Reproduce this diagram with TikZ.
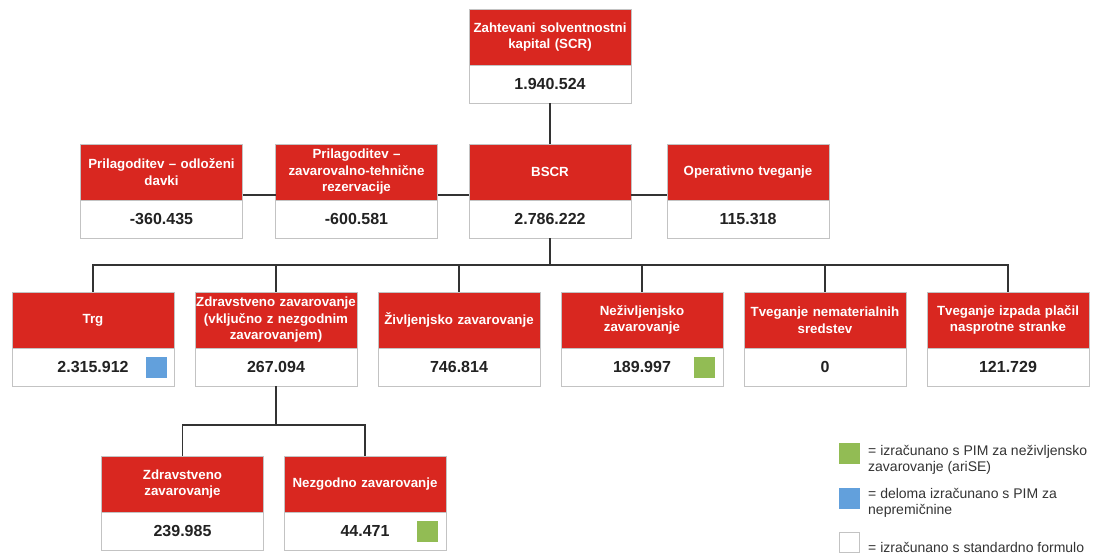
\documentclass[tikz,border=0pt]{standalone}
\usepackage{fontspec}
\setmainfont{Liberation Sans}
\usetikzlibrary{positioning}

\definecolor{riskred}{RGB}{217,39,32}
\definecolor{pimgreen}{RGB}{146,188,84}
\definecolor{pimblue}{RGB}{98,160,220}
\definecolor{boxgray}{RGB}{195,195,195}
\definecolor{linkgray}{RGB}{51,51,51}
\definecolor{numgray}{RGB}{34,34,34}

\begin{document}
\begin{tikzpicture}[
            x = 1pt, y = -1pt, % pixel grid of the reference
            riskhead/.style = {draw=boxgray, fill=riskred, text=white,
                text width=160pt, inner xsep=1pt, minimum height=56pt,
                align=center, anchor=north, outer sep=0pt,
                font=\bfseries\fontsize{13.3}{16.5}\selectfont},
            riskval/.style = {draw=boxgray, fill=white, text=numgray,
                text width=160pt, inner xsep=1pt, minimum height=38pt,
                align=center, outer sep=0pt, below=0pt of #1,
                font=\bfseries\fontsize{16}{18}\selectfont},
            link/.style = {draw=linkgray, line width=1.6pt},
            pimsquare/.style = {fill=#1, draw=#1, minimum size=20pt,
                inner sep=0pt, outer sep=0pt},
            legtext/.style = {text=linkgray, anchor=west, align=left,
                inner sep=0pt, font=\fontsize{14}{16.5}\selectfont}
        ]
        \useasboundingbox (0,0) rectangle (1093,554);

        % top
        \node[riskhead] (scr) at (550,9) {Zahtevani solventnostni\\kapital (SCR)};
        \node[riskval=scr] (scrv) {1.940.524};

        % second row
        \node[riskhead] (pod) at (161.5,144) {Prilagoditev – odloženi\\davki};
        \node[riskval=pod] (podv) {-360.435};
        \node[riskhead] (pzt) at (356.5,144) {Prilagoditev –\\zavarovalno-tehnične\\rezervacije};
        \node[riskval=pzt] (pztv) {-600.581};
        \node[riskhead] (bscr) at (550,144) {BSCR};
        \node[riskval=bscr] (bscrv) {2.786.222};
        \node[riskhead] (op) at (748,144) {Operativno tveganje};
        \node[riskval=op] (opv) {115.318};

        % modules
        \node[riskhead] (trg) at (93,292) {Trg};
        \node[riskval=trg] (trgv) {2.315.912};
        \node[riskhead, right=21pt of trg] (zdr) {Zdravstveno zavarovanje\\(vključno z nezgodnim\\zavarovanjem)};
        \node[riskval=zdr] (zdrv) {267.094};
        \node[riskhead, right=21pt of zdr] (ziv) {Življenjsko zavarovanje};
        \node[riskval=ziv] (zivv) {746.814};
        \node[riskhead, right=21pt of ziv] (nziv) {Neživljenjsko\\zavarovanje};
        \node[riskval=nziv] (nzivv) {189.997};
        \node[riskhead, right=21pt of nziv] (nem) {Tveganje nematerialnih\\sredstev};
        \node[riskval=nem] (nemv) {0};
        \node[riskhead, right=21pt of nem] (izp) {Tveganje izpada plačil\\nasprotne stranke};
        \node[riskval=izp] (izpv) {121.729};

        % health sub-modules
        \node[riskhead] (zdz) at (182.5,456) {Zdravstveno\\zavarovanje};
        \node[riskval=zdz] (zdzv) {239.985};
        \node[riskhead, right=20.5pt of zdz] (nzg) {Nezgodno zavarovanje};
        \node[riskval=nzg] (nzgv) {44.471};

        % method marks
        \node[pimsquare=pimblue, anchor=east] (trgm) at ([xshift=-8pt]trgv.east) {};
        \node[pimsquare=pimgreen, anchor=east] (nzivm) at ([xshift=-9pt]nzivv.east) {};
        \node[pimsquare=pimgreen, anchor=east] (nzgm) at ([xshift=-9pt]nzgv.east) {};

        % connectors
        \draw[link] (scrv.south) -- (bscr.north);
        \draw[link] ([yshift=5pt]pod.south east) -- ([yshift=5pt]pzt.south west);
        \draw[link] ([yshift=5pt]pzt.south east) -- ([yshift=5pt]bscr.south west);
        \draw[link] ([yshift=5pt]bscr.south east) -- ([yshift=5pt]op.south west);
        \foreach \m in {trg,zdr,ziv,nziv,nem,izp}
            \draw[link] (bscrv.south) -- ++(0,27) -| (\m.north);
        \foreach \m in {zdz,nzg}
            \draw[link] (zdrv.south) -- ++(0,39) -| (\m.north);

        % legend
        \node[pimsquare=pimgreen] (legg) at (849.5,453) {};
        \node[legtext] (legtg) at (868,460) {= izračunano s PIM za neživljensko\\zavarovanje (ariSE)};
        \node[pimsquare=pimblue] (legb) at (849.5,498) {};
        \node[legtext] (legtb) at (868,503) {= deloma izračunano s PIM za\\nepremičnine};
        \node[pimsquare=white, draw=boxgray, line width=1pt] (legw) at (849.5,542) {};
        \node[legtext] (legtw) at (868,547) {= izračunano s standardno formulo};
    \end{tikzpicture}
\end{document}
